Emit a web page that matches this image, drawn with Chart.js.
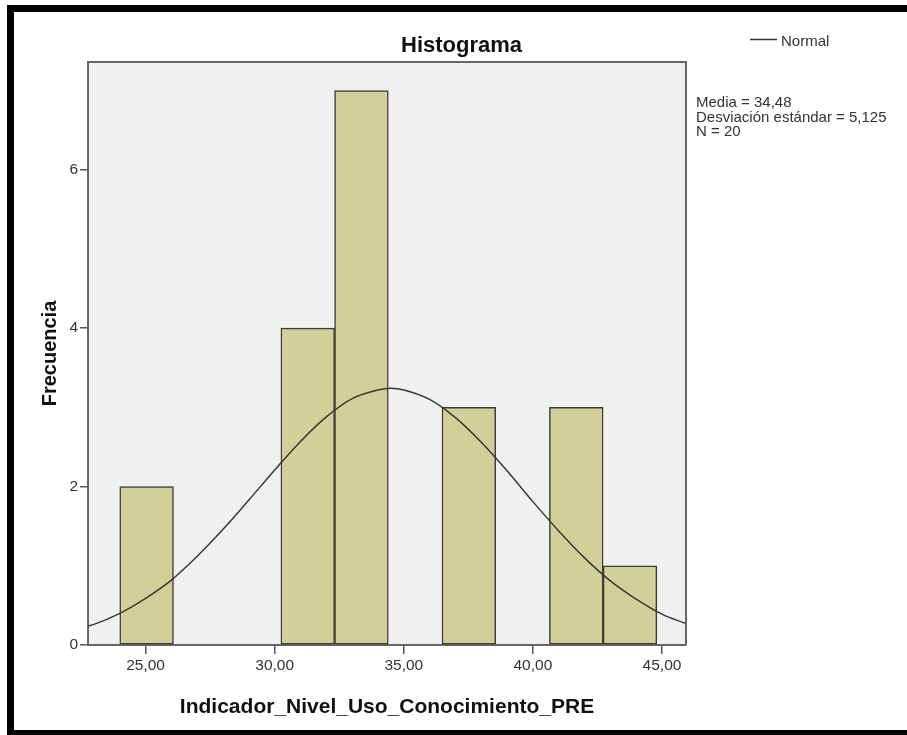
<!DOCTYPE html>
<html>
<head>
<meta charset="utf-8">
<script src="https://cdn.jsdelivr.net/npm/chart.js@4/dist/chart.umd.min.js"></script>
<style>
    body { margin: 0; background: #fff; overflow: hidden; width: 907px; height: 735px; position: relative; }
    #frame { position: absolute; left: 7px; top: 5px; width: 1000px; height: 718px; border: 7px solid #000; border-right: none; }
    #chart { position: absolute; left: 0; top: 0; }
</style>
</head>
<body>
<div id="frame"></div>
<canvas id="chart" width="907" height="735"></canvas>
<script>
// Histogram bins (centres, width 2,08) and counts
const binCenters = [25.04, 27.12, 29.20, 31.28, 33.36, 35.44, 37.52, 39.60, 41.68, 43.76];
const counts = [2, 0, 0, 4, 7, 0, 3, 0, 3, 1];

// Normal curve
const normalX = [22.77, 23, 24, 25, 26, 27, 28, 29, 30, 31, 32, 33, 34, 34.5, 35, 36, 37, 38, 39, 40, 41, 42, 43, 44, 45, 45.93];
const normalY = [0.24, 0.26, 0.40, 0.59, 0.82, 1.12, 1.46, 1.83, 2.21, 2.57, 2.88, 3.11, 3.22, 3.24, 3.22, 3.10, 2.87, 2.56, 2.20, 1.81, 1.44, 1.10, 0.81, 0.58, 0.39, 0.27];

// Tick values
const xTicks = [25, 30, 35, 40, 45];
const yTicks = [0, 2, 4, 6];

const statsLines = ['Media = 34,48', 'Desviación estándar = 5,125', 'N = 20'];

const FONT = '"Liberation Sans", Arial, sans-serif';

// Grey plot background plus top/right frame, and the side texts
const plotFrame = {
    id: 'plotFrame',
    beforeDraw(chart) {
        const { ctx, chartArea: a } = chart;
        ctx.save();
        ctx.fillStyle = '#f0f0f0';
        ctx.fillRect(a.left, a.top, a.right - a.left, a.bottom - a.top);
        ctx.restore();
    },
    afterDraw(chart) {
        const { ctx, chartArea: a } = chart;
        ctx.save();
        ctx.strokeStyle = '#666';
        ctx.lineWidth = 2;
        ctx.beginPath();
        ctx.moveTo(a.left, a.top);
        ctx.lineTo(a.right, a.top);
        ctx.lineTo(a.right, a.bottom);
        ctx.stroke();

        // title
        ctx.fillStyle = '#111';
        ctx.font = 'bold 22px ' + FONT;
        ctx.textAlign = 'left';
        ctx.textBaseline = 'alphabetic';
        ctx.fillText('Histograma', 401, 52);

        // legend
        ctx.strokeStyle = '#333';
        ctx.lineWidth = 1.5;
        ctx.beginPath();
        ctx.moveTo(750, 39.5);
        ctx.lineTo(777, 39.5);
        ctx.stroke();
        ctx.fillStyle = '#333';
        ctx.font = '15px ' + FONT;
        ctx.fillText('Normal', 781, 46);

        // statistics
        statsLines.forEach((t, i) => ctx.fillText(t, 696, 107 + i * 14.5));
        ctx.restore();
    }
};

const fmt = v => v.toFixed(2).replace('.', ',');

new Chart(document.getElementById('chart'), {
    type: 'bar',
    data: {
        datasets: [
            {
                type: 'line',
                label: 'Normal',
                data: normalX.map((x, i) => ({ x: x, y: normalY[i] })),
                borderColor: '#383838',
                borderWidth: 1.5,
                pointRadius: 0,
                cubicInterpolationMode: 'monotone',
                fill: false,
                order: 0
            },
            {
                label: 'Frecuencia',
                data: binCenters.map((x, i) => ({ x: x, y: counts[i] })),
                backgroundColor: '#d3cf98',
                borderColor: '#3c3c3c',
                borderWidth: 1.5,
                borderSkipped: false,
                barPercentage: 1,
                categoryPercentage: 1,
                order: 1
            }
        ]
    },
    options: {
        responsive: false,
        animation: false,
        layout: { padding: { left: 0, top: 62, right: 221, bottom: 0 } },
        plugins: {
            legend: { display: false },
            title: { display: false },
            tooltip: { enabled: false }
        },
        scales: {
            x: {
                type: 'linear',
                offset: false,
                min: 22.77,
                max: 45.93,
                afterFit: s => { s.height = 90; },
                afterBuildTicks: s => { s.ticks = xTicks.map(v => ({ value: v })); },
                grid: { offset: false, drawOnChartArea: false, drawTicks: true, tickLength: 9, color: '#555', lineWidth: 1.5 },
                border: { display: true, color: '#666', width: 2 },
                ticks: {
                    padding: 2,
                    color: '#333',
                    font: { family: FONT, size: 15.5 },
                    maxRotation: 0,
                    callback: v => fmt(v)
                },
                title: {
                    display: true,
                    text: 'Indicador_Nivel_Uso_Conocimiento_PRE',
                    color: '#111',
                    font: { family: FONT, size: 21, weight: 'bold' },
                    padding: { top: 0, bottom: 15 }
                }
            },
            y: {
                min: 0,
                max: 7.36,
                afterFit: s => { s.width = 88; },
                afterBuildTicks: s => { s.ticks = yTicks.map(v => ({ value: v })); },
                grid: { drawOnChartArea: false, drawTicks: true, tickLength: 8, color: '#555', lineWidth: 1.5 },
                border: { display: true, color: '#666', width: 2 },
                ticks: {
                    padding: 2,
                    color: '#333',
                    font: { family: FONT, size: 15.5 },
                    callback: v => String(v)
                },
                title: {
                    display: true,
                    text: 'Frecuencia',
                    color: '#111',
                    font: { family: FONT, size: 20, weight: 'bold' },
                    padding: { top: 38, bottom: 0 }
                }
            }
        }
    },
    plugins: [plotFrame]
});
</script>
</body>
</html>
